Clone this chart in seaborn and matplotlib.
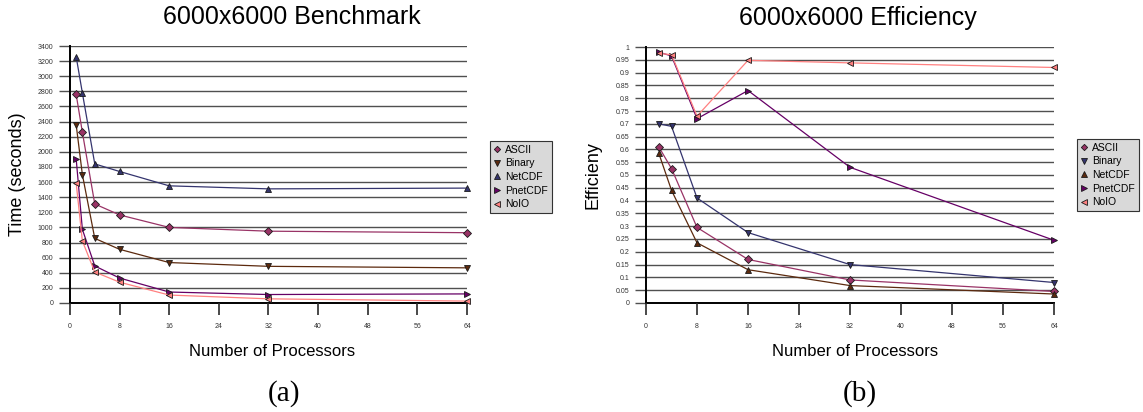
import pandas as pd
import matplotlib
matplotlib.use("Agg")
import matplotlib.pyplot as plt
import matplotlib.transforms as mtransforms
import seaborn as sns

# --- Data ---
series_names = ["ASCII", "Binary", "NetCDF", "PnetCDF", "NoIO"]

procs_time = [1, 2, 4, 8, 16, 32, 64]
time_ascii = [2760, 2260, 1310, 1165, 1000, 950, 930]
time_binary = [2360, 1700, 855, 710, 535, 485, 465]
time_netcdf = [3260, 2780, 1840, 1740, 1550, 1510, 1520]
time_pnetcdf = [1910, 975, 490, 330, 145, 112, 120]
time_noio = [1590, 820, 410, 275, 105, 55, 25]

procs_eff = [2, 4, 8, 16, 32, 64]
eff_ascii = [0.61, 0.525, 0.295, 0.17, 0.09, 0.045]
eff_binary = [0.70, 0.69, 0.41, 0.275, 0.15, 0.08]
eff_netcdf = [0.585, 0.44, 0.235, 0.13, 0.068, 0.035]
eff_pnetcdf = [0.98, 0.965, 0.72, 0.83, 0.53, 0.245]
eff_noio = [0.975, 0.97, 0.73, 0.948, 0.938, 0.92]

x_ticks = list(range(0, 65, 8))

# --- Styling ---
sns.set_theme(style="ticks")
plt.rcParams["font.family"] = ["Liberation Sans", "DejaVu Sans"]
plt.rcParams["text.color"] = "black"
plt.rcParams["axes.labelcolor"] = "black"

markers = {"ASCII": "D", "Binary": "v", "NetCDF": "^", "PnetCDF": ">", "NoIO": "<"}
# the two panels swap the Binary / NetCDF colours
pal_time = {"ASCII": "#993366", "Binary": "#5c2a0e", "NetCDF": "#34346e",
            "PnetCDF": "#660066", "NoIO": "#ff8080"}
pal_eff = {"ASCII": "#993366", "Binary": "#34346e", "NetCDF": "#5c2a0e",
           "PnetCDF": "#660066", "NoIO": "#ff8080"}


def to_long(x, cols):
    frames = []
    for name, vals in zip(series_names, cols):
        frames.append(pd.DataFrame({"procs": x, "value": vals, "series": name}))
    return pd.concat(frames, ignore_index=True)


df_time = to_long(procs_time, [time_ascii, time_binary, time_netcdf, time_pnetcdf, time_noio])
df_eff = to_long(procs_eff, [eff_ascii, eff_binary, eff_netcdf, eff_pnetcdf, eff_noio])


def draw_panel(ax, df, palette, ymax, ystep, ylabel, yfmt, label_x):
    sns.lineplot(ax=ax, data=df, x="procs", y="value", hue="series", style="series",
                 hue_order=series_names, style_order=series_names,
                 palette=palette, markers=markers, dashes=False, linewidth=0.9,
                 markersize=5, markeredgecolor="#1a1a1a", markeredgewidth=0.6,
                 clip_on=False, zorder=3)
    # diamonds look too big at the same size as the triangles
    for line in ax.get_lines():
        if line.get_marker() == "D":
            line.set_markersize(3.6)
    ax.set_xlim(0, 64)
    ax.set_ylim(0, ymax)
    ax.set_xticks(x_ticks)
    yt = [i * ystep for i in range(int(round(ymax / ystep)) + 1)]
    ax.set_yticks(yt)
    ax.set_yticklabels([yfmt(v) for v in yt])
    ax.grid(axis="y", color="#505050", linewidth=1.0)
    for s in ["top", "right"]:
        ax.spines[s].set_visible(False)
    for s in ["left", "bottom"]:
        ax.spines[s].set_color("black")
        ax.spines[s].set_linewidth(1.4)
    # x tick marks drawn explicitly below the axis line
    ax.xaxis.set_tick_params(which="major", length=0, labelsize=5,
                             labelcolor="#333333", pad=14.5)
    trans = mtransforms.blended_transform_factory(ax.transData, ax.transAxes)
    ax.vlines(x_ticks, -0.045, 0, transform=trans, colors="#2a2a2a",
              linewidth=1.2, clip_on=False, zorder=5)
    ax.yaxis.set_tick_params(which="major", direction="out", length=8, width=1,
                             color="#505050", labelsize=5, labelcolor="#333333",
                             pad=4, left=True)
    ax.set_xlabel("")
    ax.set_ylabel(ylabel, fontsize=13)
    ax.yaxis.set_label_coords(label_x, 0.5)

    handles, labels = ax.get_legend_handles_labels()
    for h in handles:
        h.set_linestyle("none")
        h.set_markersize(3.2 if h.get_marker() == "D" else 4.2)
    ax.get_legend().remove()
    return handles, labels


def fmt_time(v):
    return str(int(round(v)))


def fmt_eff(v):
    v = round(v, 2)
    if v == 0:
        return "0"
    if v == 1:
        return "1"
    return f"{v:g}"


fig = plt.figure(figsize=(11.43, 4.12), dpi=100)
ax1 = fig.add_axes([0.0612, 0.2646, 0.3474, 0.6237])
ax2 = fig.add_axes([0.5652, 0.2646, 0.3570, 0.6213])

h1, l1 = draw_panel(ax1, df_time, pal_time, 3400, 200, "Time (seconds)", fmt_time, -0.111)
h2, l2 = draw_panel(ax2, df_eff, pal_eff, 1.0, 0.05, "Efficieny", fmt_eff, -0.110)

leg_kw = dict(loc="upper left", fontsize=7.5, frameon=True, fancybox=False,
              facecolor="#d9d9d9", edgecolor="#333333", framealpha=1,
              handlelength=0.6, handletextpad=0.5, labelspacing=0.35,
              borderpad=0.35, borderaxespad=0)
lg1 = fig.legend(h1, l1, bbox_to_anchor=(490 / 1143, 1 - 141 / 412), **leg_kw)
lg2 = fig.legend(h2, l2, bbox_to_anchor=(1077 / 1143, 1 - 139 / 412), **leg_kw)
for lg in (lg1, lg2):
    lg.get_frame().set_linewidth(0.8)

# titles, axis captions and panel letters
fig.text(292 / 1143, 1 - 17.5 / 412, "6000x6000 Benchmark", fontsize=18,
         ha="center", va="center")
fig.text(858 / 1143, 1 - 17.5 / 412, "6000x6000 Efficiency", fontsize=18,
         ha="center", va="center")
fig.text(272 / 1143, 1 - 351 / 412, "Number of Processors", fontsize=12,
         ha="center", va="center")
fig.text(855 / 1143, 1 - 351 / 412, "Number of Processors", fontsize=12,
         ha="center", va="center")
fig.text(284 / 1143, 1 - 394 / 412, "(a)", fontsize=21, ha="center", va="center",
         family=["Liberation Serif", "DejaVu Serif"])
fig.text(860 / 1143, 1 - 394 / 412, "(b)", fontsize=21, ha="center", va="center",
         family=["Liberation Serif", "DejaVu Serif"])

fig.savefig("out.png", dpi=100, facecolor="white")
